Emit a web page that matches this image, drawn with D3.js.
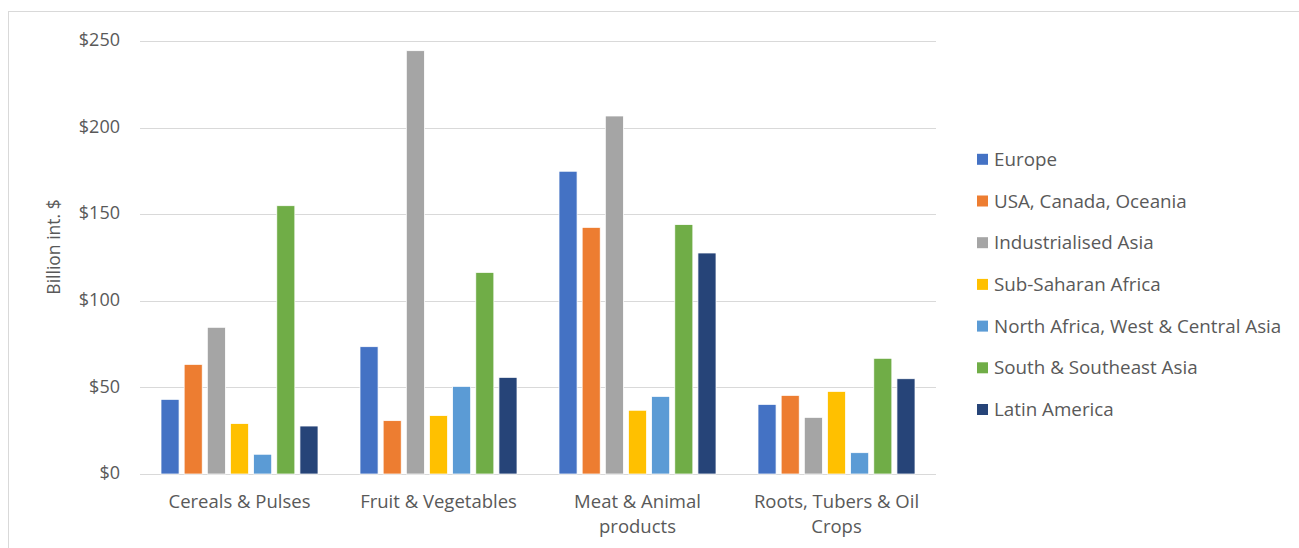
<!DOCTYPE html>
<html><head><meta charset="utf-8">
<script src="https://cdn.jsdelivr.net/npm/d3@7"></script>
<style>body{margin:0;background:#fff}svg{display:block}text{font-family:"Open Sans","Noto Sans",sans-serif;fill:#595959}</style>
</head><body><svg id="c" width="1299" height="548"></svg>
<script>
const categories = ["Cereals & Pulses","Fruit & Vegetables","Meat & Animal products","Roots, Tubers & Oil Crops"];
const series = ["Europe","USA, Canada, Oceania","Industrialised Asia","Sub-Saharan Africa","North Africa, West & Central Asia","South & Southeast Asia","Latin America"];
const colors = ["#4472C4","#ED7D31","#A5A5A5","#FFC000","#5B9BD5","#70AD47","#264478"];
const europe   = [43.1, 73.5, 174.8, 40.2];
const usa      = [63.3, 30.8, 142.4, 45.4];
const indAsia  = [84.7, 244.4, 206.7, 32.7];
const ssAfrica = [29.1, 33.7, 36.8, 47.7];
const naWca    = [11.4, 50.6, 44.8, 12.3];
const ssAsia   = [154.9, 116.4, 144.0, 66.8];
const latAm    = [27.7, 55.8, 127.6, 55.0];
const yTicks = [0, 50, 100, 150, 200, 250];
const values = [europe, usa, indAsia, ssAfrica, naWca, ssAsia, latAm];

const svg = d3.select("#c");
svg.append("rect").attr("x",8.5).attr("y",11.5).attr("width",1300).attr("height",540)
  .attr("fill","none").attr("stroke","#d9d9d9").attr("stroke-width",1);

const pL=140, pR=936, pT=41, pB=474;
const y = d3.scaleLinear().domain([0,250]).range([pB, pT]);
const x0 = d3.scaleBand().domain(categories).range([pL,pR]).padding(0);
const gw = x0.bandwidth();
const x1 = d3.scaleBand().domain(series).range([21, gw-21]).paddingInner(0.22).paddingOuter(0);

// gridlines
svg.append("g").selectAll("line").data(yTicks).join("line")
  .attr("x1",pL).attr("x2",pR).attr("y1",d=>Math.round(y(d))+0.5).attr("y2",d=>Math.round(y(d))+0.5)
  .attr("stroke","#d9d9d9").attr("stroke-width",1.2);

// y axis labels
const yAxis = d3.axisLeft(y).tickValues(yTicks).tickFormat(d=>"$"+d).tickSize(0).tickPadding(0);
const ga = svg.append("g").attr("transform",`translate(120,-1)`).call(yAxis);
ga.select(".domain").remove();
ga.selectAll("text").attr("font-size",18).attr("fill","#595959").style("font-family","'Open Sans'");

// y title
svg.append("text").attr("transform","translate(60,247) rotate(-90)").attr("text-anchor","middle")
  .attr("font-size",17.5).text("Billion int. $");

// bars
const groups = svg.append("g").selectAll("g").data(categories).join("g")
  .attr("transform",d=>`translate(${x0(d)},0)`);
groups.selectAll("rect").data((c,ci)=>series.map((s,si)=>({s,si,v:values[si][ci]}))).join("rect")
  .attr("x",d=>x1(d.s)).attr("width",x1.bandwidth())
  .attr("y",d=>y(d.v)).attr("height",d=>y(0)-y(d.v))
  .attr("fill",d=>colors[d.si]).attr("stroke","#fff").attr("stroke-width",0.75);

// x labels
const wrap = {"Cereals & Pulses":["Cereals & Pulses"],"Fruit & Vegetables":["Fruit & Vegetables"],
  "Meat & Animal products":["Meat & Animal","products"],"Roots, Tubers & Oil Crops":["Roots, Tubers & Oil","Crops"]};
categories.forEach(c=>{
  const t = svg.append("text").attr("text-anchor","middle").attr("font-size",18.5)
    .attr("x",x0(c)+gw/2).attr("y",508);
  wrap[c].forEach((l,i)=>t.append("tspan").attr("x",x0(c)+gw/2).attr("dy",i?25:0).text(l));
});

// legend
const lg = svg.append("g").selectAll("g").data(series).join("g")
  .attr("transform",(d,i)=>`translate(977,${159.3+i*41.7})`);
lg.append("rect").attr("x",0).attr("y",-5.5).attr("width",11).attr("height",11).attr("fill",(d,i)=>colors[i]);
lg.append("text").attr("x",17).attr("y",0).attr("dy","0.35em").attr("font-size",18.8).text(d=>d);
</script></body></html>
